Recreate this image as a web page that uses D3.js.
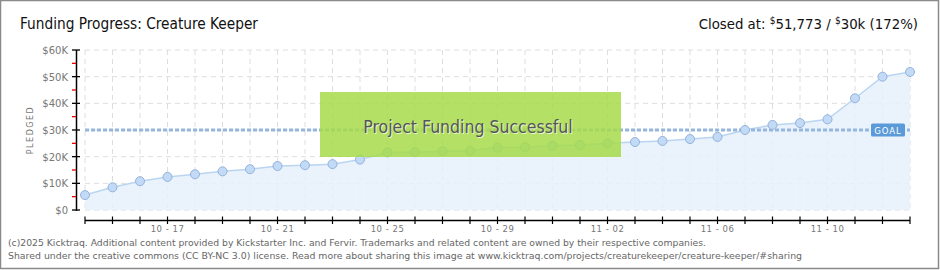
<!DOCTYPE html>
<html><head><meta charset="utf-8">
<script src="https://cdn.jsdelivr.net/npm/d3@7"></script>
<style>
html,body{margin:0;padding:0;background:#fff;}
svg{display:block;}
</style></head>
<body>
<svg id="chart" width="940" height="270"></svg>
<script>
const dates = ["10-14","10-15","10-16","10-17","10-18","10-19","10-20","10-21","10-22","10-23","10-24","10-25","10-26","10-27","10-28","10-29","10-30","10-31","11-01","11-02","11-03","11-04","11-05","11-06","11-07","11-08","11-09","11-10","11-11","11-12","11-13"];
const pledged = [5600,8500,10800,12400,13400,14500,15300,16500,16800,17200,18900,21600,21700,22000,22200,23400,23500,24100,24400,25000,25500,25900,26600,27400,30000,31900,32600,34000,41900,50000,51773];
const yTicks = [0,10000,20000,30000,40000,50000,60000];
const yTickLabels = ["$0","$10K","$20K","$30K","$40K","$50K","$60K"];
const xLabelDates = ["10-17","10-21","10-25","10-29","11-02","11-06","11-10"];
const goal = 30000;
const title = "Funding Progress: Creature Keeper";
const footer = ["(c)2025 Kicktraq. Additional content provided by Kickstarter Inc. and Fervir. Trademarks and related content are owned by their respective companies.",
"Shared under the creative commons (CC BY-NC 3.0) license. Read more about sharing this image at www.kicktraq.com/projects/creaturekeeper/creature-keeper/#sharing"];

const svg = d3.select("#chart");
const font = "'Liberation Sans Narrow','DejaVu Sans Condensed',sans-serif";

svg.append("rect").attr("x",0.5).attr("y",0.5).attr("width",938).attr("height",268)
  .attr("fill","#fff").attr("stroke","#8a8a8a").attr("stroke-width",1.5);

const x = d3.scalePoint().domain(dates).range([85,910]);
const y = d3.scaleLinear().domain([0,60000]).range([210,50]);

// grid
const grid = svg.append("g").attr("stroke","#dedede").attr("stroke-dasharray","5,4").attr("stroke-width",1);
yTicks.forEach(t=>grid.append("line").attr("x1",85).attr("x2",910).attr("y1",y(t)).attr("y2",y(t)));
dates.forEach(d=>grid.append("line").attr("x1",x(d)).attr("x2",x(d)).attr("y1",50).attr("y2",210));

// area + line
const area = d3.area().x((d,i)=>x(dates[i])).y0(y(0)).y1(d=>y(d));
svg.append("path").datum(pledged).attr("d",area).attr("fill","#e6f0fc").attr("opacity",0.85);
const line = d3.line().x((d,i)=>x(dates[i])).y(d=>y(d));
svg.append("path").datum(pledged).attr("d",line).attr("fill","none").attr("stroke","#b9d5f2").attr("stroke-width",1.5);

// goal line
svg.append("line").attr("x1",85).attr("x2",910).attr("y1",y(goal)).attr("y2",y(goal))
  .attr("stroke","#94b6df").attr("stroke-width",3).attr("stroke-dasharray","4,2");

// points
svg.append("g").selectAll("circle").data(pledged).join("circle")
  .attr("cx",(d,i)=>x(dates[i])).attr("cy",d=>y(d)).attr("r",4.5)
  .attr("fill","#c2daf6").attr("stroke","#93b3da").attr("stroke-width",1);

// goal badge
const gb = svg.append("g");
gb.append("rect").attr("x",871).attr("y",y(goal)-6.5).attr("width",34).attr("height",13).attr("rx",1.5)
  .attr("fill","#5b9ad8");
gb.append("text").attr("x",888).attr("y",y(goal)+3.5).attr("text-anchor","middle")
  .attr("font-family","'DejaVu Sans',sans-serif").attr("font-size",8.5).attr("fill","#fff")
  .attr("letter-spacing",1).text("GOAL");

// success box
const sb = svg.append("g");
sb.append("rect").attr("x",320).attr("y",92).attr("width",301).attr("height",65)
  .attr("fill","#a6da4a").attr("opacity",0.85);
sb.append("text").attr("x",468).attr("y",133).attr("text-anchor","middle")
  .attr("font-family",font).attr("font-size",17.5).attr("fill","#fff").attr("opacity",0.7)
  .attr("dx",1).attr("dy",1).text("Project Funding Successful");
sb.append("text").attr("x",468).attr("y",133).attr("text-anchor","middle")
  .attr("font-family",font).attr("font-size",17.5).attr("fill","#555")
  .text("Project Funding Successful");

// y axis
const ya = svg.append("g");
ya.append("line").attr("x1",76.5).attr("x2",76.5).attr("y1",50).attr("y2",211).attr("stroke","#000").attr("stroke-width",1.5);
yTicks.forEach((t,i)=>{
  ya.append("line").attr("x1",72).attr("x2",80).attr("y1",y(t)).attr("y2",y(t)).attr("stroke","#000").attr("stroke-width",1.3);
  ya.append("text").attr("x",68).attr("y",y(t)+4).attr("text-anchor","end")
    .attr("font-family","'DejaVu Sans',sans-serif").attr("font-size",10).attr("fill","#777").text(yTickLabels[i]);
  if(i<yTicks.length-1){
    const m = y(t+5000);
    ya.append("line").attr("x1",72).attr("x2",76).attr("y1",m).attr("y2",m).attr("stroke","#e00").attr("stroke-width",1.3);
  }
});
svg.append("text").attr("transform","translate(33,130) rotate(-90)").attr("text-anchor","middle")
  .attr("font-family","'DejaVu Sans',sans-serif").attr("font-size",8).attr("fill","#777")
  .attr("letter-spacing",1.5).text("PLEDGED");

// x axis
const xa = svg.append("g");
xa.append("line").attr("x1",85).attr("x2",910).attr("y1",220.5).attr("y2",220.5).attr("stroke","#000").attr("stroke-width",1.5);
dates.forEach(d=>xa.append("line").attr("x1",x(d)).attr("x2",x(d)).attr("y1",216.5).attr("y2",224).attr("stroke","#000").attr("stroke-width",1.2));
xLabelDates.forEach(d=>xa.append("text").attr("x",x(d)).attr("y",232).attr("text-anchor","middle")
  .attr("font-family","'DejaVu Sans',sans-serif").attr("font-size",8.5).attr("fill","#777").attr("letter-spacing",0.5).text(d.replace("-"," - ")));

// title
svg.append("text").attr("x",20).attr("y",29).attr("font-family",font).attr("font-size",16.5)
  .attr("fill","#111").attr("textLength",238).attr("lengthAdjust","spacingAndGlyphs").text(title);
const ct = svg.append("text").attr("x",918).attr("y",29).attr("text-anchor","end")
  .attr("font-family",font).attr("font-size",14.8).attr("fill","#111");
ct.append("tspan").text("Closed at:  ");
ct.append("tspan").attr("font-size",10).attr("dy",-5).text("$");
ct.append("tspan").attr("dy",5).text("51,773 /  ");
ct.append("tspan").attr("font-size",10).attr("dy",-5).text("$");
ct.append("tspan").attr("dy",5).text("30k (172%)");

// footer
footer.forEach((f,i)=>svg.append("text").attr("x",8).attr("y",246+i*12.5)
  .attr("font-family","'DejaVu Sans Condensed','DejaVu Sans',sans-serif").attr("font-size",9.5).attr("fill","#666")
  .attr("textLength",[698,794][i]).attr("lengthAdjust","spacingAndGlyphs").text(f));
</script>
</body></html>
